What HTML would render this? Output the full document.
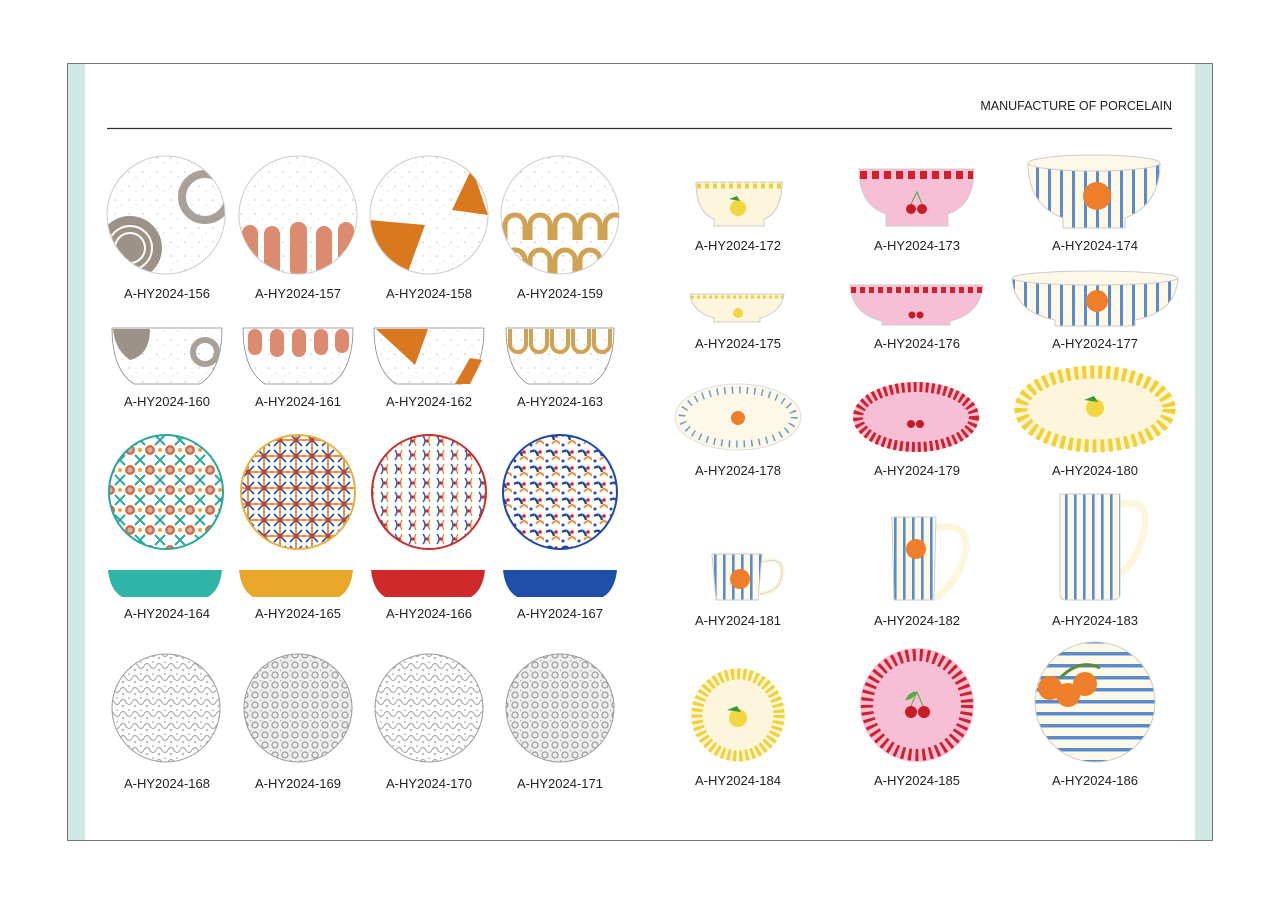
<!DOCTYPE html>
<html><head><meta charset="utf-8"><style>
html,body{margin:0;padding:0;background:#fff;}
svg{display:block;}
text{font-family:"Liberation Sans",Arial,sans-serif;font-size:13px;fill:#222;}
</style></head><body>
<svg width="1280" height="905" viewBox="0 0 1280 905" xmlns="http://www.w3.org/2000/svg">
<defs>
<pattern id="speck" width="14" height="14" patternUnits="userSpaceOnUse">
<rect width="14" height="14" fill="#fff"/><circle cx="3" cy="4" r="0.6" fill="#999"/><circle cx="10" cy="9" r="0.5" fill="#aaa"/><circle cx="6" cy="12" r="0.4" fill="#bbb"/>
</pattern>
<pattern id="folk1" width="20" height="20" patternUnits="userSpaceOnUse">
<rect width="20" height="20" fill="#fff"/><circle cx="10" cy="10" r="5" fill="#e0683a"/><circle cx="10" cy="10" r="2.5" fill="#bbb"/><path d="M0 0l5 5M20 0l-5 5M0 20l5-5M20 20l-5-5" stroke="#2aa6a0" stroke-width="2"/><circle cx="0" cy="10" r="2" fill="#e8a33c"/><circle cx="20" cy="10" r="2" fill="#e8a33c"/>
</pattern>
<pattern id="folk2" width="16" height="16" patternUnits="userSpaceOnUse">
<rect width="16" height="16" fill="#fff"/><path d="M0 8H16M8 0V16" stroke="#e8923c" stroke-width="2"/><path d="M2 2l12 12M14 2L2 14" stroke="#2f4fa8" stroke-width="1.6"/><circle cx="8" cy="8" r="2" fill="#d23a2a"/>
</pattern>
<pattern id="folk3" width="14" height="14" patternUnits="userSpaceOnUse">
<rect width="14" height="14" fill="#fff"/><path d="M3 2q4 5 0 10" stroke="#3b62b0" stroke-width="1.6" fill="none"/><path d="M10 2q-3 5 0 10" stroke="#e0883a" stroke-width="1.4" fill="none"/><circle cx="7" cy="7" r="1.6" fill="#d02a2a"/>
</pattern>
<pattern id="folk4" width="16" height="16" patternUnits="userSpaceOnUse">
<rect width="16" height="16" fill="#fff"/><path d="M2 4q6-4 8 4" stroke="#1f48a8" stroke-width="2.4" fill="none"/><path d="M8 12q4-6 8 0" stroke="#e8933a" stroke-width="2" fill="none"/><circle cx="12" cy="4" r="1.8" fill="#d22" /><circle cx="3" cy="13" r="1.5" fill="#1f48a8"/>
</pattern>
<pattern id="lace" width="12" height="12" patternUnits="userSpaceOnUse">
<rect width="12" height="12" fill="#fff"/><path d="M0 6q3-5 6 0t6 0" stroke="#aaa" stroke-width="1.2" fill="none"/><circle cx="3" cy="10" r="1.3" fill="#bbb"/><circle cx="9" cy="2" r="1" fill="#bbb"/>
</pattern>
<pattern id="lace2" width="10" height="10" patternUnits="userSpaceOnUse">
<rect width="10" height="10" fill="#eee"/><circle cx="5" cy="5" r="3" fill="none" stroke="#999" stroke-width="1.2"/><circle cx="0" cy="0" r="1.5" fill="#aaa"/>
</pattern>
<pattern id="vstripe" width="9" height="10" patternUnits="userSpaceOnUse">
<rect width="9" height="10" fill="#fdf8e8"/><rect x="3" width="2.6" height="10" fill="#5a8ccc"/>
</pattern>
<pattern id="vstripe2" width="12" height="10" patternUnits="userSpaceOnUse">
<rect width="12" height="10" fill="#fdf8e8"/><rect x="4" width="3" height="10" fill="#5a8ccc"/>
</pattern>
<pattern id="hstripe" width="10" height="12" patternUnits="userSpaceOnUse">
<rect width="10" height="12" fill="#fdf8e8"/><rect y="4" width="10" height="3.5" fill="#5a8ccc"/>
</pattern>
<clipPath id="c156"><circle cx="166" cy="215" r="59"/></clipPath>
<clipPath id="c157"><circle cx="298" cy="215" r="59"/></clipPath>
<clipPath id="c158"><circle cx="429" cy="215" r="59"/></clipPath>
<clipPath id="c159"><circle cx="560" cy="215" r="59"/></clipPath>
<clipPath id="c186"><circle cx="1095" cy="702" r="60"/></clipPath>
</defs>

<rect x="67.5" y="63.5" width="1145" height="777" fill="#fff" stroke="#777"/>
<rect x="68" y="64" width="17" height="776" fill="#cfe8e3"/>
<rect x="1195" y="64" width="17" height="776" fill="#cfe8e3"/>
<text x="1172" y="110" text-anchor="end" style="font-size:12.5px">MANUFACTURE OF PORCELAIN</text>
<line x1="107" y1="128.5" x2="1172" y2="128.5" stroke="#333" stroke-width="1.2"/>

<!-- row1 -->
<g clip-path="url(#c156)"><circle cx="166" cy="215" r="59" fill="url(#speck)"/>
<circle cx="205" cy="197" r="23" fill="none" stroke="#a9a099" stroke-width="8"/>
<circle cx="130" cy="248" r="32" fill="#9d9288"/><circle cx="130" cy="248" r="22" fill="none" stroke="#fff" stroke-width="2"/><circle cx="130" cy="248" r="15" fill="none" stroke="#fff" stroke-width="2"/></g>
<circle cx="166" cy="215" r="59" fill="none" stroke="#ccc"/>
<g clip-path="url(#c157)"><circle cx="298" cy="215" r="59" fill="url(#speck)"/>
<g fill="#dd8b70"><rect x="242" y="225" width="16" height="55" rx="8"/><rect x="264" y="226" width="16" height="55" rx="8"/><rect x="290" y="222" width="17" height="55" rx="8"/><rect x="316" y="226" width="16" height="55" rx="8"/><rect x="338" y="222" width="16" height="55" rx="8"/></g></g>
<circle cx="298" cy="215" r="59" fill="none" stroke="#ccc"/>
<g clip-path="url(#c158)"><circle cx="429" cy="215" r="59" fill="url(#speck)"/>
<path d="M368 220L425 225L405 280L368 280Z" fill="#d9781f"/><path d="M472 168L488 215L452 210Z" fill="#d9781f"/></g>
<circle cx="429" cy="215" r="59" fill="none" stroke="#ccc"/>
<g clip-path="url(#c159)"><circle cx="560" cy="215" r="59" fill="url(#speck)"/>
<g fill="none" stroke="#d0a253" stroke-width="5"><path d="M505 240v-15a10 10 0 0 1 20 0v15M530 240v-15a10 10 0 0 1 20 0v15M555 240v-15a10 10 0 0 1 20 0v15M580 240v-15a10 10 0 0 1 20 0v15M605 240v-15a10 10 0 0 1 20 0v15"/><path d="M505 275v-15a10 10 0 0 1 20 0v15M530 275v-15a10 10 0 0 1 20 0v15M555 275v-15a10 10 0 0 1 20 0v15M580 275v-15a10 10 0 0 1 20 0v15"/></g></g>
<circle cx="560" cy="215" r="59" fill="none" stroke="#ccc"/>

<!-- row2 bowls -->
<g stroke="#888" stroke-width="0.8">
<path d="M112 328H222Q222 370 200 384H134Q112 370 112 328Z" fill="url(#speck)"/>
<path d="M243 328H353Q353 370 331 384H265Q243 370 243 328Z" fill="url(#speck)"/>
<path d="M374 328H484Q484 370 462 384H396Q374 370 374 328Z" fill="url(#speck)"/>
<path d="M506 328H614Q614 370 592 384H528Q506 370 506 328Z" fill="url(#speck)"/>
</g>
<path d="M113 329H150Q150 355 130 360Q115 350 113 329Z" fill="#9d9288"/><circle cx="205" cy="352" r="12" fill="none" stroke="#a9a099" stroke-width="6"/>
<g fill="#dd8b70"><rect x="248" y="329" width="14" height="26" rx="7"/><rect x="270" y="329" width="14" height="28" rx="7"/><rect x="292" y="329" width="14" height="28" rx="7"/><rect x="314" y="329" width="14" height="26" rx="7"/><rect x="335" y="329" width="14" height="24" rx="7"/></g>
<path d="M376 329H428L415 365Z" fill="#d9781f"/><path d="M470 358L482 360L470 384H455Z" fill="#d9781f"/>
<g fill="none" stroke="#d0a253" stroke-width="4"><path d="M510 329v15a8 8 0 0 0 16 0v-15M531 329v15a8 8 0 0 0 16 0v-15M552 329v15a8 8 0 0 0 16 0v-15M573 329v15a8 8 0 0 0 16 0v-15M594 329v15a8 8 0 0 0 16 0v-15"/></g>

<!-- row3 plates -->
<circle cx="166" cy="492" r="57" fill="url(#folk1)" stroke="#2aa6a0" stroke-width="2"/>
<circle cx="298" cy="492" r="57" fill="url(#folk2)" stroke="#e8b040" stroke-width="2"/>
<circle cx="429" cy="492" r="57" fill="url(#folk3)" stroke="#c03030" stroke-width="2"/>
<circle cx="560" cy="492" r="57" fill="url(#folk4)" stroke="#1f48a8" stroke-width="2"/>
<path d="M108 570H222Q220 590 208 597H122Q110 590 108 570Z" fill="#2fb5a8"/>
<path d="M239 570H353Q351 590 339 597H253Q241 590 239 570Z" fill="#e9a82a"/>
<path d="M371 570H485Q483 590 471 597H385Q373 590 371 570Z" fill="#cf2a2a"/>
<path d="M503 570H617Q615 590 603 597H517Q505 590 503 570Z" fill="#1f4fa8"/>

<!-- row4 -->
<circle cx="166" cy="708" r="54" fill="url(#lace)" stroke="#999"/>
<circle cx="298" cy="708" r="54" fill="url(#lace2)" stroke="#999"/>
<circle cx="429" cy="708" r="54" fill="url(#lace)" stroke="#999"/>
<circle cx="560" cy="708" r="54" fill="url(#lace2)" stroke="#999"/>

<!-- left labels -->
<g text-anchor="middle">
<text x="167" y="298">A-HY2024-156</text><text x="298" y="298">A-HY2024-157</text><text x="429" y="298">A-HY2024-158</text><text x="560" y="298">A-HY2024-159</text>
<text x="167" y="406">A-HY2024-160</text><text x="298" y="406">A-HY2024-161</text><text x="429" y="406">A-HY2024-162</text><text x="560" y="406">A-HY2024-163</text>
<text x="167" y="618">A-HY2024-164</text><text x="298" y="618">A-HY2024-165</text><text x="429" y="618">A-HY2024-166</text><text x="560" y="618">A-HY2024-167</text>
<text x="167" y="788">A-HY2024-168</text><text x="298" y="788">A-HY2024-169</text><text x="429" y="788">A-HY2024-170</text><text x="560" y="788">A-HY2024-171</text>
</g>

<!-- right bowls -->
<path d="M696 182H782Q782 212 764 219V226H714V219Q696 212 696 182Z" fill="#fdf5dc" stroke="#ccc"/>
<line x1="697" y1="186" x2="781" y2="186" stroke="#f0d030" stroke-width="5" stroke-dasharray="4 4"/>
<circle cx="738" cy="208" r="8" fill="#f2d640"/><path d="M729 199l8-3 3 5z" fill="#3a9a3a"/>

<path d="M859 169H974Q974 205 948 214V226H886V214Q859 205 859 169Z" fill="#f6bfd6" stroke="#ccc"/>
<line x1="860" y1="175" x2="973" y2="175" stroke="#d0202a" stroke-width="8" stroke-dasharray="7 5"/>
<circle cx="911" cy="209" r="5" fill="#c81b25"/><circle cx="922" cy="209" r="5" fill="#c81b25"/><path d="M911 204l6-12 5 12" stroke="#5a4" fill="none"/>

<path d="M1028 163H1160Q1160 205 1125 218V228H1063V218Q1028 205 1028 163Z" fill="url(#vstripe2)" stroke="#ccc"/>
<ellipse cx="1094" cy="163" rx="66" ry="8" fill="#fdf8e8" stroke="#ccc"/>
<circle cx="1097" cy="196" r="14" fill="#ef7e2a"/>

<path d="M690 294H784Q782 312 760 318V322H714V318Q692 312 690 294Z" fill="#fdf5dc" stroke="#ccc"/>
<line x1="691" y1="297" x2="783" y2="297" stroke="#f0d030" stroke-width="3" stroke-dasharray="3 3"/>
<circle cx="738" cy="313" r="5" fill="#f2d640"/>

<path d="M850 285H983Q980 314 950 321V325H882V321Q852 314 850 285Z" fill="#f6bfd6" stroke="#ccc"/>
<line x1="851" y1="290" x2="982" y2="290" stroke="#d0202a" stroke-width="6" stroke-dasharray="5 4"/>
<circle cx="912" cy="315" r="3.5" fill="#c81b25"/><circle cx="920" cy="315" r="3.5" fill="#c81b25"/>

<path d="M1012 278H1178Q1176 312 1135 320V326H1055V320Q1014 312 1012 278Z" fill="url(#vstripe2)" stroke="#ccc"/>
<ellipse cx="1095" cy="278" rx="83" ry="7" fill="#fdf8e8" stroke="#ccc"/>
<circle cx="1097" cy="301" r="11" fill="#ef7e2a"/>

<!-- ovals -->
<ellipse cx="738" cy="417" rx="63" ry="33" fill="#fdf8e8" stroke="#ddd"/>
<ellipse cx="738" cy="417" rx="56" ry="27" fill="none" stroke="#6a9ad0" stroke-width="7" stroke-dasharray="1.5 6"/>
<circle cx="738" cy="418" r="7" fill="#ef7e2a"/>
<ellipse cx="916" cy="417" rx="63" ry="35" fill="#f6bfd6"/>
<ellipse cx="916" cy="417" rx="58" ry="30" fill="none" stroke="#d0202a" stroke-width="10" stroke-dasharray="3 3"/>
<circle cx="911" cy="424" r="4" fill="#c81b25"/><circle cx="920" cy="424" r="4" fill="#c81b25"/>
<ellipse cx="1095" cy="409" rx="81" ry="43" fill="#fdf5dc"/>
<ellipse cx="1095" cy="409" rx="74" ry="37" fill="none" stroke="#f2d030" stroke-width="13" stroke-dasharray="4 4"/>
<circle cx="1095" cy="408" r="9" fill="#f2d640"/><path d="M1084 400l10-4 4 6z" fill="#3a9a3a"/>

<!-- cups -->
<path d="M762 562q22-6 20 12q-2 18-22 20" fill="none" stroke="#fdf5dc" stroke-width="5"/>
<path d="M762 562q22-6 20 12q-2 18-22 20" fill="none" stroke="#ccc" stroke-width="0.8"/>
<path d="M712 554H762L758 600H716Z" fill="url(#vstripe)" stroke="#ccc"/>
<circle cx="740" cy="579" r="10" fill="#ef7e2a"/>
<path d="M936 528q32-6 30 20q-4 30-30 50" fill="none" stroke="#fdf5dc" stroke-width="7"/>
<path d="M892 517H936L934 600H894Z" fill="url(#vstripe)" stroke="#ccc"/>
<circle cx="916" cy="549" r="10" fill="#ef7e2a"/>
<path d="M1118 505q30-8 27 20q-4 30-25 50" fill="none" stroke="#fdf5dc" stroke-width="7"/>
<path d="M1060 494H1120V594Q1120 600 1112 600H1066Q1060 600 1060 594Z" fill="url(#vstripe)" stroke="#ccc"/>

<!-- bottom plates -->
<circle cx="738" cy="715" r="47" fill="#fdf5dc"/>
<circle cx="738" cy="715" r="41" fill="none" stroke="#f2d030" stroke-width="11" stroke-dasharray="3 3"/>
<circle cx="738" cy="718" r="9" fill="#f2d640"/><path d="M727 710l10-4 4 6z" fill="#3a9a3a"/>
<circle cx="917" cy="705" r="57" fill="#f6bfd6"/>
<circle cx="917" cy="705" r="50" fill="none" stroke="#d0202a" stroke-width="12" stroke-dasharray="3 4"/>
<circle cx="911" cy="712" r="6" fill="#c81b25"/><circle cx="924" cy="712" r="6" fill="#c81b25"/><path d="M911 706l6-14 6 14" stroke="#5a4" fill="none"/><path d="M905 700q6-10 12-8q-4 8-12 8z" fill="#5a4"/>
<g clip-path="url(#c186)"><rect x="1030" y="640" width="130" height="125" fill="url(#hstripe)"/>
<path d="M1060 678q20-20 40-10" stroke="#5a8a40" stroke-width="3" fill="none"/>
<circle cx="1050" cy="688" r="12" fill="#ef7e2a"/><circle cx="1068" cy="695" r="12" fill="#ef7e2a"/><circle cx="1085" cy="684" r="12" fill="#ef7e2a"/></g>
<circle cx="1095" cy="702" r="60" fill="none" stroke="#ccc"/>

<!-- right labels -->
<g text-anchor="middle">
<text x="738" y="250">A-HY2024-172</text><text x="917" y="250">A-HY2024-173</text><text x="1095" y="250">A-HY2024-174</text>
<text x="738" y="348">A-HY2024-175</text><text x="917" y="348">A-HY2024-176</text><text x="1095" y="348">A-HY2024-177</text>
<text x="738" y="475">A-HY2024-178</text><text x="917" y="475">A-HY2024-179</text><text x="1095" y="475">A-HY2024-180</text>
<text x="738" y="625">A-HY2024-181</text><text x="917" y="625">A-HY2024-182</text><text x="1095" y="625">A-HY2024-183</text>
<text x="738" y="785">A-HY2024-184</text><text x="917" y="785">A-HY2024-185</text><text x="1095" y="785">A-HY2024-186</text>
</g>
</svg>
</body></html>
